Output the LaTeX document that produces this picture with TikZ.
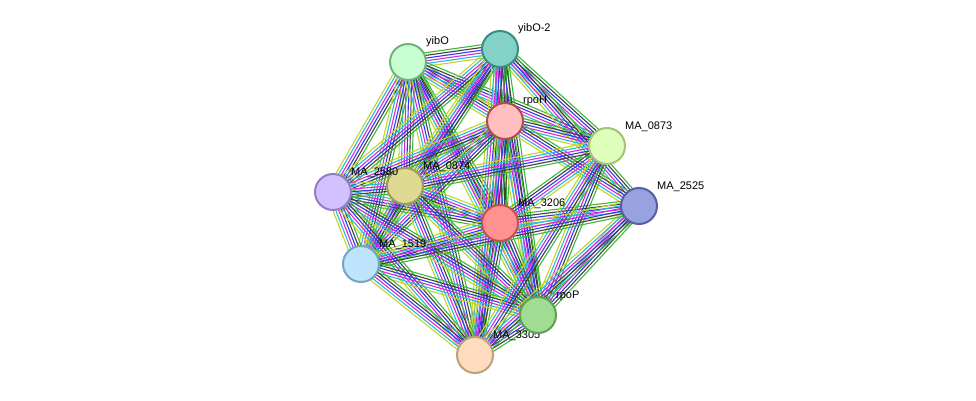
\documentclass[tikz,border=0pt]{standalone}
\usepackage{fontspec}
\setmainfont{Liberation Sans}
\usetikzlibrary{calc}
\definecolor{cYG}{HTML}{C2D42A}
\definecolor{cCY}{HTML}{2CB8D8}
\definecolor{cMG}{HTML}{D42AD8}
\definecolor{cBL}{HTML}{3636F0}
\definecolor{cBK}{HTML}{404040}
\definecolor{cGR}{HTML}{3CB83C}
\tikzset{prot/.style={circle,minimum size=36pt,inner sep=0pt,line width=2pt},
lab/.style={font=\fontsize{11pt}{12pt}\selectfont,anchor=base west,inner sep=1pt}}
\newcommand{\edg}[3]{% from, to, list of colors
 \foreach \c [count=\i] in {#3}{
  \pgfmathsetmacro\o{(\i-3.5)*2.7}
  \draw[\c,line width=1.1pt] ($(#1)!\o pt!90:(#2)$) -- ($(#2)!\o pt!-90:(#1)$);}}
\begin{document}
\begin{tikzpicture}[x=1pt,y=-1pt]
\useasboundingbox (0,0) rectangle (976,401);
\coordinate (yibO) at (408,62);
\coordinate (yibO2) at (500,49);
\coordinate (rpoH) at (505,121);
\coordinate (m0873) at (607,146);
\coordinate (m2525) at (639,206);
\coordinate (m3206) at (500,223);
\coordinate (m0874) at (405,186);
\coordinate (m2580) at (333,192);
\coordinate (m1519) at (361,264);
\coordinate (rpoP) at (538,315);
\coordinate (m3305) at (475,355);
\foreach \a/\b in {yibO/yibO2,yibO/rpoH,yibO/m0873,yibO/m3206,yibO/m0874,yibO/m2580,yibO/m1519,yibO/rpoP,yibO/m3305,
yibO2/rpoH,yibO2/m0873,yibO2/m2525,yibO2/m3206,yibO2/m0874,yibO2/m2580,yibO2/m1519,yibO2/rpoP,yibO2/m3305,
rpoH/m0873,rpoH/m2525,rpoH/m3206,rpoH/m0874,rpoH/m2580,rpoH/m1519,rpoH/rpoP,rpoH/m3305,
m3206/m0874,m3206/m2580,m3206/m1519,m3206/rpoP,m3206/m3305,m3206/m0873,m3206/m2525,
m0874/m2580,m0874/m1519,m0874/rpoP,m0874/m3305,m2580/m1519,m2580/rpoP,m2580/m3305,
m1519/rpoP,m1519/m3305,rpoP/m3305,m0873/rpoP,m0873/m3305,m2525/rpoP,m2525/m3305,m0873/m0874,m2525/m1519}
 {\edg{\a}{\b}{cYG,cCY,cMG,cBL,cBK,cGR}}
\node[prot,fill={rgb,255:red,200;green,255;blue,210},draw={rgb,255:red,110;green,180;blue,120}] (nyibO) at (yibO) {};
\node[prot,fill={rgb,255:red,130;green,210;blue,200},draw={rgb,255:red,60;green,140;blue,130}] (nyibO2) at (yibO2) {};
\node[prot,fill=red!25,draw=red!40!gray] (nrpoH) at (rpoH) {};
\node[prot,fill={rgb,255:red,221;green,255;blue,187},draw={rgb,255:red,165;green,195;blue,120}] (n0873) at (m0873) {};
\node[prot,fill={rgb,255:red,152;green,162;blue,222},draw={rgb,255:red,85;green,95;blue,165}] (n2525) at (m2525) {};
\node[prot,fill={rgb,255:red,255;green,145;blue,145},draw={rgb,255:red,200;green,80;blue,80}] (n3206) at (m3206) {};
\node[prot,fill={rgb,255:red,222;green,218;blue,146},draw={rgb,255:red,160;green,155;blue,90}] (n0874) at (m0874) {};
\node[prot,fill={rgb,255:red,210;green,192;blue,255},draw={rgb,255:red,150;green,125;blue,195}] (n2580) at (m2580) {};
\node[prot,fill={rgb,255:red,190;green,228;blue,252},draw={rgb,255:red,120;green,165;blue,190}] (n1519) at (m1519) {};
\node[prot,fill={rgb,255:red,255;green,220;blue,190},draw={rgb,255:red,190;green,160;blue,125}] (n3305) at (m3305) {};
\node[lab] (l3305) at ($(m3305)+(17,-17)$) {MA\_3305};
\node[prot,fill={rgb,255:red,160;green,220;blue,145},draw={rgb,255:red,95;green,160;blue,85}] (nrpoP) at (rpoP) {};
\foreach \n/\t in {yibO/yibO,yibO2/yibO-2,rpoH/rpoH,m0873/MA\_0873,m2525/MA\_2525,m3206/MA\_3206,m0874/MA\_0874,m2580/MA\_2580,m1519/MA\_1519,rpoP/rpoP}
 \node[lab] (l\n) at ($(\n)+(17,-17)$) {\t};
\end{tikzpicture}
\end{document}
